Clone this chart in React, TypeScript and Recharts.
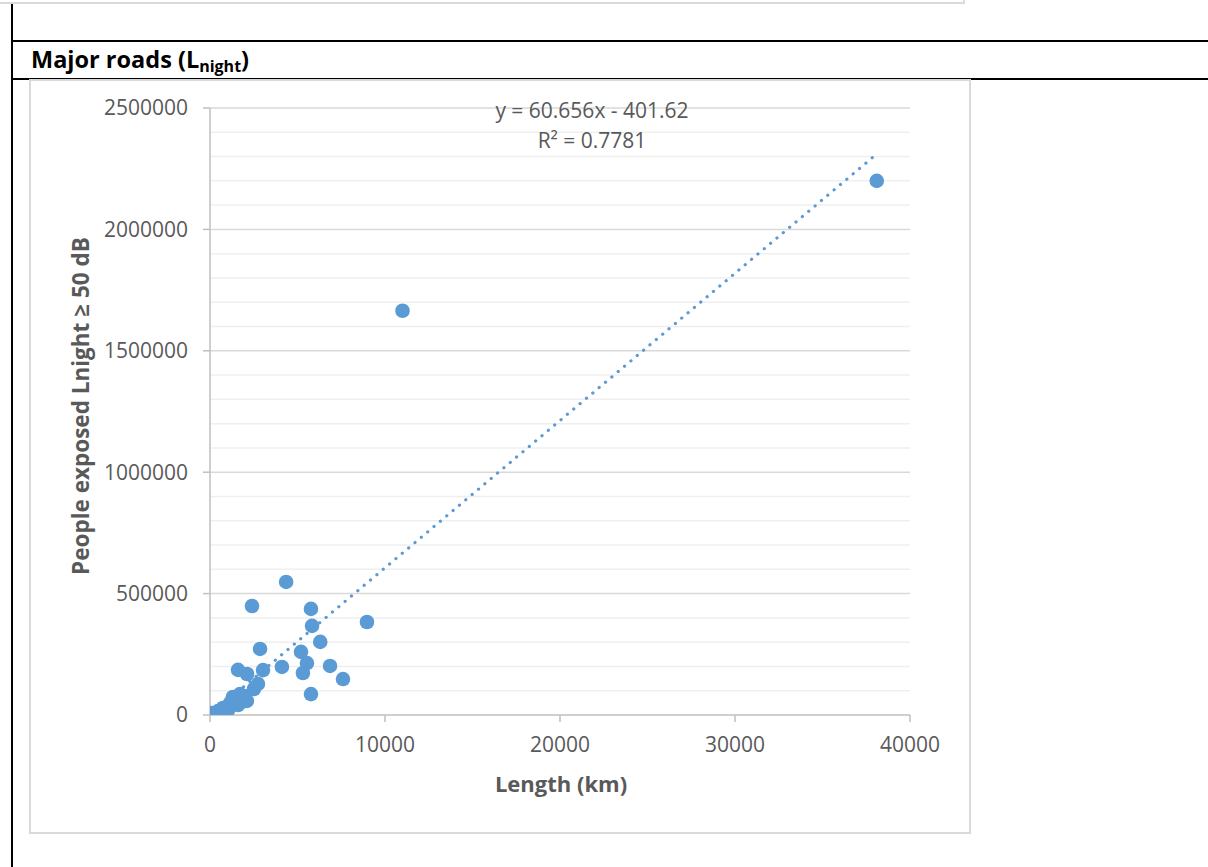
import React from 'react';
import { ScatterChart, Scatter, XAxis, YAxis, CartesianGrid } from 'recharts';

// Length of major roads (km)
const lengthKm = [
  38100, 11000, 4350, 2400, 5770, 8970, 5830, 6300, 2860, 5200, 5540, 4110, 6860, 3030,
  1600, 2120, 5310, 7600, 2740, 2510, 5770,
  100, 290, 340, 460, 740, 1030, 1030, 1140, 1310, 1430, 1600, 1830, 2110, 1940, 1710,
];
// People exposed Lnight >= 50 dB
const peopleExposed = [
  2200000, 1665000, 548000, 449000, 437000, 383000, 367000, 301000, 272000, 260000, 214000,
  198000, 202000, 185000, 186000, 169000, 173000, 148000, 128000, 107000, 86000,
  8000, 8000, 1000, 16000, 29000, 33000, 20000, 49000, 74000, 70000, 41000, 54000, 58000,
  78000, 86000,
];
// Linear trendline endpoints (y = 60.656x - 401.62), from min to max length
const trendX = [100, 38100];
const trendY = [5664, 2310592];

const xTicks = [0, 10000, 20000, 30000, 40000];
const yTicks = [0, 500000, 1000000, 1500000, 2000000, 2500000];
const yMinor = [
  100000, 200000, 300000, 400000, 600000, 700000, 800000, 900000, 1100000, 1200000, 1300000,
  1400000, 1600000, 1700000, 1800000, 1900000, 2100000, 2200000, 2300000, 2400000,
];
const yMajor = [500000, 1000000, 1500000, 2000000, 2500000];

const points = lengthKm.map((x, i) => ({ x, y: peopleExposed[i] }));
const trend = trendX.map((x, i) => ({ x, y: trendY[i] }));

const BLUE = '#5B9BD5';
const FONT = '"Open Sans", "Noto Sans", sans-serif';
const TXT = '#595959';

const Dot = (props: any) => {
  if (props.cx == null || props.cy == null) return <g />;
  return <circle cx={props.cx} cy={props.cy} r={7.3} fill={BLUE} />;
};
const NoDot = () => <g />;

export default function App() {
  return (
    <div style={{ position: 'absolute', left: 0, top: 0, width: 1208, height: 867, background: '#fff', overflow: 'hidden', fontFamily: FONT }}>
      {/* top grey box remnant */}
      <div style={{ position: 'absolute', left: -4, top: -10, width: 967, height: 12, borderRight: '2px solid #d9d9d9', borderBottom: '2px solid #d9d9d9' }} />
      {/* black table lines */}
      <div style={{ position: 'absolute', left: 11, top: 4, width: 2, height: 863, background: '#000' }} />
      <div style={{ position: 'absolute', left: 11, top: 40, width: 1197, height: 2, background: '#000' }} />
      <div style={{ position: 'absolute', left: 11, top: 78, width: 1197, height: 2, background: '#000' }} />
      {/* chart box */}
      <div style={{ position: 'absolute', left: 29, top: 79, width: 938, height: 751, border: '2px solid #d9d9d9', background: '#fff' }} />
      <div style={{ position: 'absolute', left: 30, top: 79 }}>
        <ScatterChart width={940} height={755} margin={{ top: 29, right: 60, left: 80, bottom: 59 }}>
          <CartesianGrid vertical={false} horizontalValues={yMinor} stroke="#efefef" strokeWidth={1.5} />
          <CartesianGrid vertical={false} horizontalValues={yMajor} stroke="#d9d9d9" strokeWidth={1.5} />
          <XAxis
            type="number"
            dataKey="x"
            domain={[0, 40000]}
            ticks={xTicks}
            interval={0}
            height={60}
            tickSize={7}
            tickMargin={15}
            axisLine={{ stroke: '#bfbfbf', strokeWidth: 1.5 }}
            tickLine={{ stroke: '#bfbfbf', strokeWidth: 1.5 }}
            tick={{ fill: TXT, fontSize: 21, fontFamily: FONT }}
            allowDataOverflow
          />
          <YAxis
            type="number"
            dataKey="y"
            domain={[0, 2500000]}
            ticks={yTicks}
            interval={0}
            width={100}
            tickSize={7}
            tickMargin={15}
            axisLine={{ stroke: '#bfbfbf', strokeWidth: 1.5 }}
            tickLine={{ stroke: '#bfbfbf', strokeWidth: 1.5 }}
            tick={{ fill: TXT, fontSize: 21, fontFamily: FONT }}
            allowDataOverflow
          />
          <Scatter data={points} fill={BLUE} shape={Dot} isAnimationActive={false} />
          <Scatter
            data={trend}
            fill={BLUE}
            shape={NoDot}
            line={{ stroke: BLUE, strokeWidth: 3.2, strokeDasharray: '0.1 8.2', strokeLinecap: 'round' } as any}
            lineType="joint"
            isAnimationActive={false}
          />
        </ScatterChart>
      </div>
      {/* text overlay */}
      <svg width={1208} height={867} style={{ position: 'absolute', left: 0, top: 0, pointerEvents: 'none' }}>
        <text x={31} y={68} fontFamily={FONT} fontWeight={700} fontSize={23.5} fill="#000">
          Major roads (L<tspan fontSize={16} dy={4}>night</tspan><tspan dy={-4}>)</tspan>
        </text>
        <text x={592} y={118} textAnchor="middle" fontFamily={FONT} fontSize={21} fill={TXT}>
          y = 60.656x - 401.62
        </text>
        <text x={592} y={148} textAnchor="middle" fontFamily={FONT} fontSize={21} fill={TXT}>
          R² = 0.7781
        </text>
        <text x={561} y={792} textAnchor="middle" fontFamily={FONT} fontWeight={700} fontSize={22} fill={TXT}>
          Length (km)
        </text>
        <text transform="translate(89,406) rotate(-90)" textAnchor="middle" fontFamily={FONT} fontWeight={700} fontSize={22.5} fill={TXT}>
          People exposed Lnight ≥ 50 dB
        </text>
      </svg>
    </div>
  );
}
